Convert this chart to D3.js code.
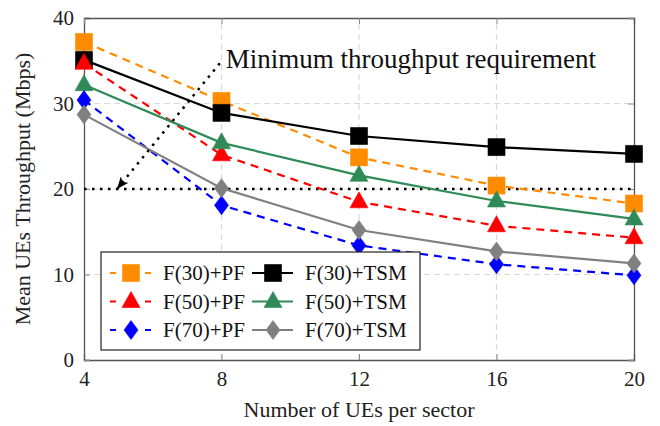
<!DOCTYPE html>
<html>
<head>
<meta charset="utf-8">
<script src="https://cdn.jsdelivr.net/npm/d3@7"></script>
<style>
  body { margin: 0; background: white; }
  text { font-family: "Liberation Serif", "Times New Roman", serif; }
</style>
</head>
<body>
<div id="chart"></div>
<script>
// data
var users = [4, 8, 12, 16, 20];
var f30pf = [37.2, 30.3, 23.7, 20.4, 18.3];
var f30tsm = [35.1, 28.9, 26.2, 24.9, 24.1];
var f50pf = [34.7, 24.0, 18.5, 15.7, 14.3];
var f50tsm = [32.2, 25.4, 21.6, 18.6, 16.5];
var f70pf = [30.4, 18.1, 13.4, 11.2, 9.9];
var f70tsm = [28.7, 20.1, 15.2, 12.7, 11.3];
var seriesNames = ["F(30)+PF", "F(30)+TSM", "F(50)+PF", "F(50)+TSM", "F(70)+PF", "F(70)+TSM"];
var yTicks = [0, 10, 20, 30, 40];
var minRequirement = 20;

var series = [
  { name: seriesNames[0], values: f30pf, color: "#ff8c00", dashed: true, marker: "square" },
  { name: seriesNames[1], values: f30tsm, color: "#000000", dashed: false, marker: "square" },
  { name: seriesNames[2], values: f50pf, color: "#ff0000", dashed: true, marker: "triangle" },
  { name: seriesNames[3], values: f50tsm, color: "#2e8b57", dashed: false, marker: "triangle" },
  { name: seriesNames[4], values: f70pf, color: "#0000ff", dashed: true, marker: "diamond" },
  { name: seriesNames[5], values: f70tsm, color: "#808080", dashed: false, marker: "diamond" }
];

var width = 660, height = 426;
var margin = { left: 84, right: 26, top: 18, bottom: 66 };

var svg = d3.select("#chart").append("svg")
  .attr("width", width)
  .attr("height", height);

var x = d3.scaleLinear().domain([4, 20]).range([margin.left, width - margin.right]);
var y = d3.scaleLinear().domain([0, 40]).range([height - margin.bottom, margin.top]);

function markerPath(type) {
  if (type === "square") return "M-8.5,-8.5H8.5V8.5H-8.5Z";
  if (type === "triangle") return "M0,-10L9,6L-9,6Z";
  return "M0,-9.5L7,0L0,9.5L-7,0Z";
}

// grid
svg.append("g").selectAll("line.gx")
  .data([8, 12, 16])
  .enter().append("line")
  .attr("x1", function(d) { return x(d); })
  .attr("x2", function(d) { return x(d); })
  .attr("y1", y(0)).attr("y2", y(40))
  .attr("stroke", "#d9d9d9").attr("stroke-width", 1.2)
  .attr("stroke-dasharray", "6,4");

svg.append("g").selectAll("line.gy")
  .data([10, 20, 30])
  .enter().append("line")
  .attr("x1", x(4)).attr("x2", x(20))
  .attr("y1", function(d) { return y(d); })
  .attr("y2", function(d) { return y(d); })
  .attr("stroke", "#d9d9d9").attr("stroke-width", 1.2)
  .attr("stroke-dasharray", "6,4");

// axes (ticks inside, mirrored)
var axisColor = "#555";
var xAxis = svg.append("g").attr("transform", "translate(0," + y(0) + ")")
  .call(d3.axisBottom(x).tickValues(users).tickSize(-6).tickPadding(11));
var yAxis = svg.append("g").attr("transform", "translate(" + x(4) + ",0)")
  .call(d3.axisLeft(y).tickValues(yTicks).tickSize(-6).tickPadding(10));
var xTop = svg.append("g").attr("transform", "translate(0," + y(40) + ")")
  .call(d3.axisTop(x).tickValues(users).tickSize(-6).tickFormat(""));
var yRight = svg.append("g").attr("transform", "translate(" + x(20) + ",0)")
  .call(d3.axisRight(y).tickValues(yTicks).tickSize(-6).tickFormat(""));

[xAxis, yAxis, xTop, yRight].forEach(function(g) {
  g.select(".domain").attr("stroke", axisColor).attr("stroke-width", 1.3);
  g.selectAll(".tick line").attr("stroke", "#888").attr("stroke-width", 1);
  g.selectAll(".tick text")
    .attr("fill", "#222")
    .style("font-size", "21px")
    .style("font-family", "Liberation Serif, serif");
});

// minimum requirement line
svg.append("line")
  .attr("x1", x(4)).attr("x2", x(20))
  .attr("y1", y(minRequirement)).attr("y2", y(minRequirement))
  .attr("stroke", "black").attr("stroke-width", 2.5)
  .attr("stroke-dasharray", "2.5,5.5");

// series
var line = d3.line()
  .x(function(d, i) { return x(users[i]); })
  .y(function(d) { return y(d); });

series.forEach(function(s) {
  var g = svg.append("g");
  g.append("path")
    .attr("d", line(s.values))
    .attr("fill", "none")
    .attr("stroke", s.color)
    .attr("stroke-width", 2.2)
    .attr("stroke-dasharray", s.dashed ? "8,6" : null);
  g.selectAll("path.m")
    .data(s.values)
    .enter().append("path")
    .attr("d", markerPath(s.marker))
    .attr("transform", function(d, i) { return "translate(" + x(users[i]) + "," + y(d) + ")"; })
    .attr("fill", s.color)
    .attr("stroke", s.color)
    .attr("stroke-opacity", 0.6)
    .attr("stroke-width", 1);
});

// annotation
svg.append("defs").append("marker")
  .attr("id", "arrow")
  .attr("viewBox", "0 0 12 10")
  .attr("refX", 11).attr("refY", 5)
  .attr("markerWidth", 12).attr("markerHeight", 10)
  .attr("markerUnits", "userSpaceOnUse")
  .attr("orient", "auto")
  .append("path")
  .attr("d", "M0,0L12,5L0,10L3,5Z")
  .attr("fill", "black");

svg.append("line")
  .attr("x1", x(7.95)).attr("y1", y(34.7))
  .attr("x2", x(4.98)).attr("y2", y(20.1))
  .attr("stroke", "black").attr("stroke-width", 2.5)
  .attr("stroke-dasharray", "2.5,5.5")
  .attr("marker-end", "url(#arrow)");

svg.append("text")
  .attr("x", x(8.12)).attr("y", y(34.2))
  .style("font-size", "27px")
  .attr("fill", "#111")
  .text("Minimum throughput requirement");

// axis labels
svg.append("text")
  .attr("x", (x(4) + x(20)) / 2).attr("y", 417)
  .attr("text-anchor", "middle")
  .style("font-size", "22px")
  .attr("fill", "#222")
  .text("Number of UEs per sector");

svg.append("text")
  .attr("transform", "translate(30," + ((y(0) + y(40)) / 2) + ") rotate(-90)")
  .attr("text-anchor", "middle")
  .style("font-size", "22px")
  .attr("fill", "#222")
  .text("Mean UEs Throughput (Mbps)");

// legend
var legend = svg.append("g").attr("transform", "translate(101,252)");
legend.append("rect")
  .attr("width", 319).attr("height", 98)
  .attr("fill", "white").attr("stroke", "#222").attr("stroke-width", 1.2);

var items = legend.selectAll("g.item")
  .data(series)
  .enter().append("g")
  .attr("transform", function(d, i) {
    var col = i % 2, row = Math.floor(i / 2);
    return "translate(" + (col === 0 ? 9 : 151) + "," + (21 + row * 28.5) + ")";
  });

items.append("line")
  .attr("x1", 0).attr("x2", 41)
  .attr("stroke", function(d) { return d.color; })
  .attr("stroke-width", 2.2)
  .attr("stroke-dasharray", function(d) { return d.dashed ? "6,29" : null; });

items.append("path")
  .attr("d", function(d) { return markerPath(d.marker); })
  .attr("transform", "translate(21,0)")
  .attr("fill", function(d) { return d.color; })
  .attr("stroke", function(d) { return d.color; })
  .attr("stroke-opacity", 0.6);

items.append("text")
  .attr("x", 53).attr("y", 7)
  .style("font-size", "21px")
  .attr("fill", "#111")
  .text(function(d) { return d.name; });
</script>
</body>
</html>
